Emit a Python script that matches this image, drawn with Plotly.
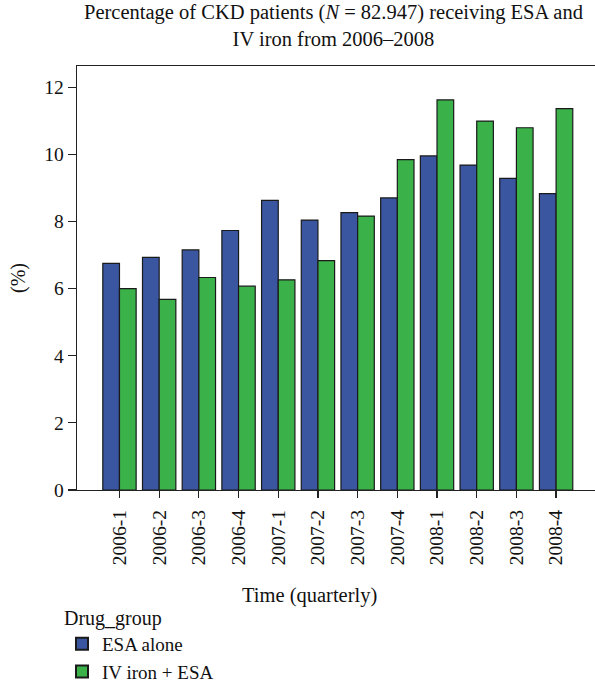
import plotly.graph_objects as go

quarters = ["2006-1", "2006-2", "2006-3", "2006-4", "2007-1", "2007-2",
            "2007-3", "2007-4", "2008-1", "2008-2", "2008-3", "2008-4"]
esa_alone = [6.75, 6.93, 7.15, 7.73, 8.63, 8.04, 8.26, 8.70, 9.95, 9.68, 9.28, 8.83]
iv_iron_esa = [6.00, 5.68, 6.33, 6.07, 6.26, 6.83, 8.16, 9.84, 11.62, 10.99, 10.79, 11.36]
y_ticks = [0, 2, 4, 6, 8, 10, 12]

FONT = "Liberation Serif"
BLUE = "#3A56A0"
GREEN = "#3BB14A"
EDGE = "#1a1a1a"

W, H = 595, 682
PL, PT, PW, PH = 77, 66, 518, 423.6

fig = go.Figure()
fig.add_trace(go.Bar(x=quarters, y=esa_alone, name="ESA alone",
                     marker=dict(color=BLUE, line=dict(color=EDGE, width=1.2))))
fig.add_trace(go.Bar(x=quarters, y=iv_iron_esa, name="IV iron + ESA",
                     marker=dict(color=GREEN, line=dict(color=EDGE, width=1.2))))


def px_x(sx):
    return (sx - PL) / PW


def px_y(sy):
    return (PT + PH - sy) / PH


fig.update_layout(
    width=W, height=H,
    margin=dict(l=PL, r=W - PL - PW, t=PT, b=H - PT - PH, autoexpand=False),
    paper_bgcolor="white", plot_bgcolor="white",
    font=dict(family=FONT, size=20, color="#111111"),
    barmode="group", bargap=0.16, bargroupgap=0,
    showlegend=True,
    legend=dict(
        title=dict(text="Drug_group", font=dict(size=20)),
        xref="container", yref="container",
        x=62 / W, xanchor="left", y=1 - 599 / H, yanchor="top",
        font=dict(size=19), tracegroupgap=0, itemsizing="constant",
        bgcolor="rgba(0,0,0,0)",
    ),
    xaxis=dict(
        type="category", range=[-1.07, 11.98],
        showline=True, linecolor="#222", linewidth=1.3, mirror=True,
        ticks="outside", ticklen=7, tickcolor="#222", tickwidth=1.2,
        tickangle=-90, tickfont=dict(size=19.5), showgrid=False,
        ticklabelstandoff=4,
    ),
    yaxis=dict(
        range=[0, 12.63], tickvals=y_ticks,
        showline=True, linecolor="#222", linewidth=1.3,
        ticks="outside", ticklen=8, tickcolor="#222", tickwidth=1.2,
        tickfont=dict(size=19.5), showgrid=False, zeroline=False,
    ),
    annotations=[
        dict(text="Percentage of CKD patients (<i>N</i> = 82.947) receiving ESA and<br>IV iron from 2006–2008",
             xref="paper", yref="paper", x=px_x(333), y=px_y(26),
             yanchor="middle", showarrow=False, font=dict(size=20.5)),
        dict(text="Time (quarterly)", xref="paper", yref="paper",
             x=px_x(309), y=px_y(595), yanchor="middle", showarrow=False,
             font=dict(size=20.5)),
        dict(text="(%)", xref="paper", yref="paper", x=px_x(18), y=0.5,
             xanchor="center", textangle=-90, showarrow=False, font=dict(size=20)),
    ],
)

fig.write_html("out.html",
               config={"displayModeBar": False, "staticPlot": True},
               post_script="document.body.style.margin='0';document.body.style.padding='0';")
